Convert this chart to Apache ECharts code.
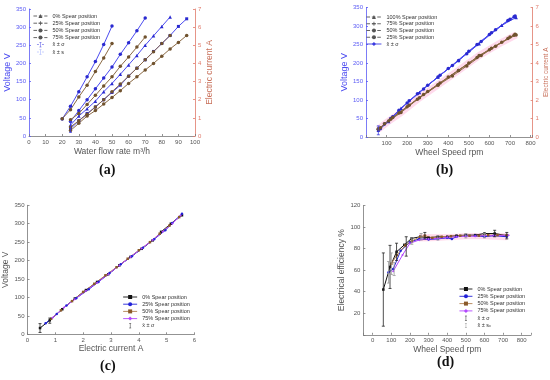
<!DOCTYPE html>
<html><head><meta charset="utf-8">
<script src="https://cdn.jsdelivr.net/npm/echarts@6/dist/echarts.min.js"></script>
<style>html,body{margin:0;padding:0;background:#fff}#c{width:550px;height:380px}</style>
</head><body><div id="c"></div>
<script>
// ---------- Panel (a): voltage / current vs water flow rate ----------
const aFlow75 = [20, 25, 30, 35, 40, 45, 50];
const aVolt75 = [47, 82, 122, 163, 205, 252, 303];
const aCurr75 = [0.95, 1.45, 2.15, 2.8, 3.55, 4.3, 5.1];
const aFlow50 = [25, 30, 35, 40, 45, 50, 55, 60, 65, 70];
const aVolt50 = [40, 70, 100, 130, 160, 190, 225, 257, 290, 325];
const aCurr50 = [0.9, 1.24, 1.74, 2.24, 2.76, 3.26, 3.84, 4.36, 4.9, 5.46];
const aFlow0 = [25, 30, 35, 40, 45, 50, 55, 60, 65, 70, 75, 80, 85];
const aVolt0 = [30, 55, 75, 96, 122, 145, 170, 196, 222, 250, 276, 302, 328];
const aCurr0 = [0.5, 0.84, 1.2, 1.6, 2.0, 2.44, 2.86, 3.3, 3.74, 4.2, 4.64, 5.1, 5.54];
const aFlow25 = [25, 30, 35, 40, 45, 50, 55, 60, 65, 70, 75, 80, 85, 90, 95];
const aVolt25 = [20, 42, 62, 80, 100, 120, 140, 165, 187, 210, 233, 255, 277, 302, 323];
const aCurr25 = [0.3, 0.7, 1.1, 1.4, 1.76, 2.12, 2.5, 2.9, 3.26, 3.64, 4.0, 4.4, 4.8, 5.16, 5.54];
const aErrX = [25], aErrY = [25], aErrE = [15];

// ---------- Panel (b): voltage / current vs wheel speed ----------
const bRpm100 = [60, 110, 170, 260, 350, 450, 550, 660, 730];
const bVolt100 = [18, 42, 78, 120, 162, 207, 252, 302, 323];
const bCurr100 = [0.42, 0.86, 1.32, 2.12, 2.82, 3.6, 4.4, 5.12, 5.52];
const bRpm75 = [70, 130, 210, 300, 400, 500, 600, 720];
const bVolt75 = [22, 55, 98, 140, 185, 232, 277, 325];
const bCurr75 = [0.5, 1.06, 1.72, 2.46, 3.24, 4.0, 4.72, 5.5];
const bRpm50 = [90, 160, 250, 350, 420, 490, 560, 630, 700];
const bVolt50 = [35, 72, 117, 162, 193, 225, 258, 290, 318];
const bCurr50 = [0.72, 1.3, 2.04, 2.8, 3.3, 3.84, 4.4, 4.9, 5.4];
const bRpm25 = [60, 120, 200, 280, 360, 450, 540, 610, 690, 725];
const bVolt25 = [20, 50, 92, 130, 167, 207, 250, 282, 315, 327];
const bCurr25 = [0.44, 0.96, 1.64, 2.3, 2.92, 3.6, 4.3, 4.8, 5.32, 5.56];
const bErrX = [60], bErrY = [18], bErrE = [12];

// ---------- Panel (c): voltage vs electric current ----------
const cCurr0 = [0.45, 0.8, 1.25, 1.7, 2.1, 2.5, 2.9, 3.3, 3.7, 4.1, 4.5, 4.8, 5.15, 5.55];
const cVolt0 = [17, 38, 68, 97, 120, 142, 163, 187, 210, 232, 255, 278, 300, 323];
const cCurr25 = [0.65, 1.05, 1.4, 1.75, 2.2, 2.55, 2.95, 3.35, 3.75, 4.15, 4.55, 4.95, 5.2, 5.55];
const cVolt25 = [30, 55, 78, 98, 122, 142, 166, 190, 212, 235, 258, 282, 302, 327];
const cCurr50 = [0.85, 1.2, 1.6, 2.0, 2.4, 2.8, 3.2, 3.6, 4.0, 4.4, 4.75, 5.1, 5.45];
const cVolt50 = [42, 65, 90, 115, 137, 160, 182, 205, 228, 250, 273, 295, 318];
const cCurr75 = [0.9, 1.3, 1.7, 2.1, 2.5, 2.9, 3.3, 3.7, 4.1, 4.5, 4.85, 5.2, 5.5];
const cVolt75 = [45, 72, 95, 118, 140, 163, 187, 210, 233, 256, 278, 300, 322];
const cErrX = [0.45, 0.8], cErrY = [17, 37], cErrE = [12, 7];

// ---------- Panel (d): electrical efficiency vs wheel speed ----------
const dRpm0 = [57, 93, 128, 170, 209, 255, 300, 350, 400, 450, 500, 550, 600, 655, 720];
const dEff0 = [42, 63, 77, 83.5, 89.5, 91, 90, 91, 91, 92, 92.5, 92.5, 94, 94, 92];
const dRpm25 = [85, 110, 150, 200, 250, 300, 350, 400, 425, 450, 500, 550, 600, 650, 720];
const dEff25 = [58, 61, 78, 86, 89, 88.5, 89, 90, 89, 91, 92, 92, 91, 92, 91];
const dRpm50 = [100, 130, 175, 210, 255, 280, 320, 370, 420, 470, 520, 570, 620, 670, 720];
const dEff50 = [66, 74, 83, 87, 91, 92, 90, 91, 91.5, 92, 92, 92, 92.5, 92.5, 92.5];
const dRpm75 = [110, 160, 200, 250, 300, 350, 400, 450, 500, 550, 600, 650, 730];
const dEff75 = [59, 74, 85, 88, 89, 89.5, 90.5, 91, 91.5, 91.5, 92, 92, 92.5];
const dSigX = [57, 93, 128, 180, 280, 655, 720];
const dSigY = [42, 63, 77, 82, 92, 94, 92];
const dSigE = [34, 20, 8, 9, 3, 3, 3];
const dSX = [85, 100, 115, 210, 260, 350, 500, 600];
const dSY = [58, 66, 61, 87, 91, 90, 92, 92];
const dSE = [10, 10, 6, 3, 3, 2, 2, 2];
const dBandRpm = [250, 300, 400, 500, 600, 720];
const dBandLow = [87, 87, 88, 89, 89, 88];
const dBandHigh = [93, 93, 93, 94, 94, 94];

// ---------- texts ----------
const panelLabels = ['(a)', '(b)', '(c)', '(d)'];

const FONT = '"Liberation Sans", Arial, sans-serif';
const C = {
  blue: '#4b4bf0', blueMk: '#2a2ad0', brown: '#8b6a45', brownMk: '#70522e',
  axBlue: '#5b5bf5', axRed: '#e07a6a', axGray: '#777', lab: '#555',
  black: '#111', b2: '#2222d8', tan: '#b08050', purple: '#b347ff'
};
const zip = (xs, ys) => xs.map((x, i) => [x, ys[i]]);
const CROSS = 'path://M4,0h2v4h4v2h-4v4h-2v-4h-4v-2h4z';
const ICON_EB = 'path://M0,0h0.01v0.01h-0.01z M14,10h0.01v0.01h-0.01z M0,4.6h4v0.8h-4z M10,4.6h4v0.8h-4z M5,0h4v0.9h-1.55v8.2h1.55v0.9h-4v-0.9h1.55v-8.2h-1.55z';
const ICON_EB2 = 'path://M0,0h0.01v0.01h-0.01z M12,10h0.01v0.01h-0.01z M4,0h4v0.9h-1.55v8.2h1.55v0.9h-4v-0.9h1.55v-8.2h-1.55z';

function ax(gi, min, max, interval, color, labelColor, extra) {
  const o = {
    type: 'value', gridIndex: gi, min, max,
    splitLine: { show: false },
    axisLine: { show: true, onZero: false, lineStyle: { color, width: 0.8 } },
    axisTick: { show: true, inside: true, length: 2, lineStyle: { color, width: 0.8 } },
    axisLabel: { fontSize: 6, color: labelColor, margin: 3, fontFamily: FONT },
    nameLocation: 'middle',
    nameTextStyle: { fontSize: 8.5, color: labelColor, fontFamily: FONT }
  };
  if (interval !== undefined) o.interval = interval;
  return Object.assign(o, extra || {});
}

function line(name, data, xi, yi, color, mkColor, symbol, size, extra) {
  return Object.assign({
    type: 'line', name, data, xAxisIndex: xi, yAxisIndex: yi,
    symbol, symbolSize: size, showSymbol: true,
    lineStyle: { color, width: 1 }, itemStyle: { color: mkColor },
    z: 3
  }, extra || {});
}

function errBar(name, xs, ys, es, xi, yi, color, capW) {
  return {
    type: 'custom', name, xAxisIndex: xi, yAxisIndex: yi,
    data: xs.map((x, i) => [x, ys[i], es[i]]),
    itemStyle: { color }, z: 6,
    encode: { x: 0, y: 1 },
    renderItem: (params, api) => {
      const x = api.value(0), y = api.value(1), e = api.value(2);
      const lo = api.coord([x, y - e]), hi = api.coord([x, y + e]);
      const st = { stroke: color, lineWidth: 0.8 };
      return { type: 'group', children: [
        { type: 'line', shape: { x1: lo[0], y1: lo[1], x2: hi[0], y2: hi[1] }, style: st },
        { type: 'line', shape: { x1: lo[0] - capW, y1: lo[1], x2: lo[0] + capW, y2: lo[1] }, style: st },
        { type: 'line', shape: { x1: hi[0] - capW, y1: hi[1], x2: hi[0] + capW, y2: hi[1] }, style: st }
      ]};
    }
  };
}

function band(name, xs, lows, highs, xi, yi, fill) {
  return {
    type: 'custom', name, xAxisIndex: xi, yAxisIndex: yi, z: 1, silent: true,
    data: xs.map((x, i) => [x, lows[i], highs[i]]),
    encode: { x: 0, y: [1, 2] },
    renderItem: (params, api) => {
      const i = params.dataIndexInside;
      if (i >= params.dataInsideLength - 1) return null;
      const x0 = api.value(0, i), l0 = api.value(1, i), h0 = api.value(2, i);
      const x1 = api.value(0, i + 1), l1 = api.value(1, i + 1), h1 = api.value(2, i + 1);
      return { type: 'polygon', shape: { points: [api.coord([x0, l0]), api.coord([x1, l1]), api.coord([x1, h1]), api.coord([x0, h0])] },
        style: { fill, stroke: fill, lineWidth: 0.5 } };
    }
  };
}

function dummy(name, symbol, color, dashed) {
  return { type: 'line', name, data: [], xAxisIndex: 0, yAxisIndex: 0, symbol, symbolSize: 4,
    lineStyle: { color, width: 0.8, type: dashed ? 'dashed' : 'solid' }, itemStyle: { color } };
}

const legendBase = {
  orient: 'vertical', itemHeight: 5, selectedMode: false, padding: 0,
  lineStyle: { width: 0.9 },
  textStyle: { fontSize: 5.5, color: '#333', fontFamily: FONT, lineHeight: 6 },
  formatter: n => n.split('|')[0]
};

const series = [];
// (a)
series.push(line('V75a', zip(aFlow75, aVolt75), 0, 0, C.blue, C.blueMk, 'circle', 3.5));
series.push(line('V50a', zip(aFlow50, aVolt50), 0, 0, C.blue, C.blueMk, 'circle', 3.5));
series.push(line('V0a', zip(aFlow0, aVolt0), 0, 0, C.blue, C.blueMk, 'triangle', 3.5));
series.push(line('V25a', zip(aFlow25, aVolt25), 0, 0, C.blue, C.blueMk, 'rect', 3));
series.push(line('I75a', zip(aFlow75, aCurr75), 0, 1, C.brown, C.brownMk, 'circle', 3.5));
series.push(line('I50a', zip(aFlow50, aCurr50), 0, 1, C.brown, C.brownMk, 'circle', 3.5));
series.push(line('I0a', zip(aFlow0, aCurr0), 0, 1, C.brown, C.brownMk, 'circle', 3.5));
series.push(line('I25a', zip(aFlow25, aCurr25), 0, 1, C.brown, C.brownMk, 'circle', 3.5));
series.push(errBar('x\u0304 \u00b1 \u03c3|a', aErrX, aErrY, aErrE, 0, 0, '#3a3ae0', 1.5));
series.push(errBar('x\u0304 \u00b1 s|a', [], [], [], 0, 0, '#8fa0ff', 1.5));
series.push(dummy('0% Spear position|a', 'triangle', '#555', true));
series.push(dummy('25% Spear position|a', CROSS, '#555', true));
series.push(dummy('50% Spear position|a', 'circle', '#555', true));
series.push(dummy('75% Spear position|a', 'circle', '#555', true));

// (b)
series.push({ type: 'line', name: 'bandB', data: zip(bRpm100, bCurr100), xAxisIndex: 1, yAxisIndex: 3,
  symbol: 'none', lineStyle: { color: 'rgba(255,150,200,0.35)', width: 7 }, z: 1 });
series.push(line('V100b', zip(bRpm100, bVolt100), 1, 2, C.blue, C.blueMk, 'triangle', 3.5));
series.push(line('V75b', zip(bRpm75, bVolt75), 1, 2, C.blue, C.blueMk, 'circle', 3.5));
series.push(line('V50b', zip(bRpm50, bVolt50), 1, 2, C.blue, C.blueMk, 'circle', 3.5));
series.push(line('V25b', zip(bRpm25, bVolt25), 1, 2, C.blue, C.blueMk, 'circle', 3.5));
series.push(line('I100b', zip(bRpm100, bCurr100), 1, 3, C.brown, C.brownMk, 'circle', 3.5));
series.push(line('I75b', zip(bRpm75, bCurr75), 1, 3, C.brown, C.brownMk, 'circle', 3.5));
series.push(line('I50b', zip(bRpm50, bCurr50), 1, 3, C.brown, C.brownMk, 'circle', 3.5));
series.push(line('I25b', zip(bRpm25, bCurr25), 1, 3, C.brown, C.brownMk, 'circle', 3.5));
series.push(errBar('errB', bErrX, bErrY, bErrE, 1, 2, '#3a3ae0', 1.5));
series.push(dummy('100% Spear position|b', 'triangle', '#555', true));
series.push(dummy('75% Spear position|b', CROSS, '#555', true));
series.push(dummy('50% Spear position|b', 'circle', '#555', true));
series.push(dummy('25% Spear position|b', 'circle', '#555', true));
series.push(dummy('x\u0304 \u00b1 \u03c3|b', 'diamond', '#3a3ae0', false));

// (c)
series.push(line('0% Spear position|c', zip(cCurr0, cVolt0), 2, 4, C.black, C.black, 'rect', 2.5));
series.push(line('25% Spear position|c', zip(cCurr25, cVolt25), 2, 4, C.b2, C.b2, 'circle', 2.5));
series.push(line('50% Spear position|c', zip(cCurr50, cVolt50), 2, 4, C.tan, '#8a5a2a', 'rect', 2.5));
series.push(line('75% Spear position|c', zip(cCurr75, cVolt75), 2, 4, C.purple, C.purple, 'diamond', 2.5));
series.push(errBar('x\u0304 \u00b1 \u03c3|c', cErrX, cErrY, cErrE, 2, 4, '#222', 1.5));

// (d)
series.push(band('bandD', dBandRpm, dBandLow, dBandHigh, 3, 5, 'rgba(255,170,210,0.4)'));
series.push(line('0% Spear position|d', zip(dRpm0, dEff0), 3, 5, C.black, C.black, 'rect', 2.5));
series.push(line('25% Spear position|d', zip(dRpm25, dEff25), 3, 5, C.b2, C.b2, 'circle', 2.5));
series.push(line('50% Spear position|d', zip(dRpm50, dEff50), 3, 5, C.tan, '#8a5a2a', 'rect', 2.5));
series.push(line('75% Spear position|d', zip(dRpm75, dEff75), 3, 5, C.purple, C.purple, 'diamond', 2.5));
series.push(errBar('x\u0304 \u00b1 \u03c3|d', dSigX, dSigY, dSigE, 3, 5, '#222', 1.5));
series.push(errBar('x\u0304 \u00b1 s\u2093|d', dSX, dSY, dSE, 3, 5, '#999', 1.5));

const hideOut = (lo, hi) => v => (v < lo || v > hi) ? '' : String(Math.abs(v) < 1e-9 ? 0 : v);

const option = {
  animation: false,
  backgroundColor: '#fff',
  title: panelLabels.map((t, i) => ({
    text: t, left: [99, 436, 100, 437][i], top: [163, 163, 359, 355][i], padding: 0,
    textStyle: { fontFamily: '"Liberation Serif", "DejaVu Serif", serif', fontWeight: 'bold', fontSize: 14, color: '#111' }
  })),
  grid: [
    { left: 29, top: 9, width: 166, height: 127, outerBoundsMode: 'none' },
    { left: 366, top: 7.5, width: 166.6, height: 129.5, outerBoundsMode: 'none' },
    { left: 27.5, top: 205.3, width: 167, height: 129, outerBoundsMode: 'none' },
    { left: 363.4, top: 205.5, width: 167.6, height: 129.3, outerBoundsMode: 'none' }
  ],
  xAxis: [
    ax(0, 0, 100, 10, C.axGray, C.lab, { name: 'Water flow rate m\u00b3/h', nameGap: 11 }),
    ax(1, 0, 810, undefined, C.axGray, C.lab, { splitNumber: 8, name: 'Wheel Speed rpm', nameGap: 11,
      axisLabel: { fontSize: 6, color: C.lab, margin: 3, fontFamily: FONT, formatter: hideOut(1, 800) } }),
    ax(2, 0, 6, 1, C.axGray, C.lab, { name: 'Electric current A', nameGap: 10 }),
    ax(3, -50, 850, undefined, C.axGray, C.lab, { splitNumber: 9, name: 'Wheel Speed rpm', nameGap: 10,
      axisLabel: { fontSize: 6, color: C.lab, margin: 3, fontFamily: FONT, formatter: hideOut(0, 800) } })
  ],
  yAxis: [
    ax(0, 0, 350, 50, C.axBlue, C.axBlue, { name: 'Voltage V', nameGap: 13,
      nameTextStyle: { fontSize: 9, color: '#4a4af0', fontFamily: FONT } }),
    ax(0, 0, 7, 1, C.axRed, C.axRed, { position: 'right', name: 'Electric current A', nameGap: 9,
      nameTextStyle: { fontSize: 8.5, color: '#c8705a', fontFamily: FONT } }),
    ax(1, 0, 350, 50, C.axBlue, C.axBlue, { name: 'Voltage V', nameGap: 13,
      nameTextStyle: { fontSize: 9, color: '#4a4af0', fontFamily: FONT } }),
    ax(1, 0, 7, 1, C.axRed, C.axRed, { position: 'right', name: 'Electric current A', nameGap: 6,
      nameTextStyle: { fontSize: 6.5, color: '#c8705a', fontFamily: FONT } }),
    ax(2, 0, 350, 50, C.axGray, C.lab, { name: 'Voltage V', nameGap: 12 }),
    ax(3, 0, 120, 20, C.axGray, C.lab, { name: 'Electrical efficiency %', nameGap: 11,
      axisLabel: { fontSize: 6, color: C.lab, margin: 3, fontFamily: FONT, formatter: hideOut(1, 120) } })
  ],
  legend: [
    Object.assign({}, legendBase, { left: 33, top: 13, itemWidth: 14, itemGap: 1.2,
      data: ['0% Spear position|a', '25% Spear position|a', '50% Spear position|a', '75% Spear position|a',
        { name: 'x\u0304 \u00b1 \u03c3|a', icon: ICON_EB }, { name: 'x\u0304 \u00b1 s|a', icon: ICON_EB }] }),
    Object.assign({}, legendBase, { left: 366, top: 14, itemWidth: 15, itemGap: 0.75,
      data: ['100% Spear position|b', '75% Spear position|b', '50% Spear position|b', '25% Spear position|b',
        'x\u0304 \u00b1 \u03c3|b'] }),
    Object.assign({}, legendBase, { left: 122.7, top: 294, itemWidth: 14, itemGap: 1.2,
      data: ['0% Spear position|c', '25% Spear position|c', '50% Spear position|c', '75% Spear position|c',
        { name: 'x\u0304 \u00b1 \u03c3|c', icon: ICON_EB2 }] }),
    Object.assign({}, legendBase, { left: 459, top: 286, itemWidth: 13, itemGap: 1.3,
      data: ['0% Spear position|d', '25% Spear position|d', '50% Spear position|d', '75% Spear position|d',
        { name: 'x\u0304 \u00b1 \u03c3|d', icon: ICON_EB2 }, { name: 'x\u0304 \u00b1 s\u2093|d', icon: ICON_EB2 }] })
  ],
  series
};

const chart = echarts.init(document.getElementById('c'), null, { renderer: 'canvas' });
chart.setOption(option);
</script></body></html>
